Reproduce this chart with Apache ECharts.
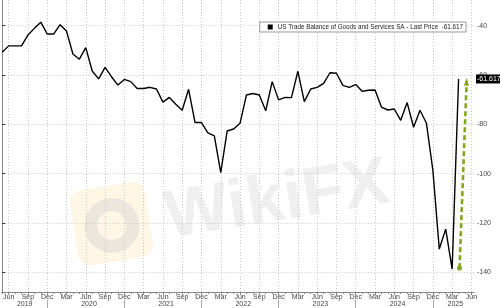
<!DOCTYPE html>
<html>
<head>
<meta charset="utf-8">
<script src="https://cdn.jsdelivr.net/npm/echarts@6/dist/echarts.min.js"></script>
<style>
html,body{margin:0;padding:0;background:#fff;}
#c{width:500px;height:308px;}
</style>
</head>
<body>
<div id="c"></div>
<script>
// Monthly data, first point = May 2019
const startYear = 2019;
const startMonth = 4; // 0 = Jan, so 4 = May
const seriesName = 'US Trade Balance of Goods and Services SA - Last Price';
const tradeBalance = [
  -50.8, -48.2, -48.2, -48.2, -43.8, -41.1, -38.6, -43.4,          // 2019 May-Dec
  -43.4, -39.6, -42.2, -51.5, -53.6, -48.9, -58.4, -61.6, -56.9, -60.7, -64.1, -61.8, // 2020
  -62.7, -65.5, -65.5, -65.0, -65.7, -71.0, -69.1, -71.9, -74.3, -65.8, -79.3, -79.3, // 2021
  -83.5, -84.7, -99.6, -82.7, -81.9, -79.6, -68.1, -67.5, -68.1, -74.5, -62.7, -70.1, // 2022
  -69.1, -69.2, -58.5, -70.8, -65.7, -65.0, -63.4, -59.1, -59.3, -64.2, -65.0, -63.9, // 2023
  -66.6, -66.2, -66.1, -73.0, -74.2, -73.8, -78.4, -71.2, -81.2, -74.3, -79.6, -98.6, // 2024
  -130.6, -122.5, -138.7, -61.617                                   // 2025 Jan-Apr
];
const monthNames = ['Jan','Feb','Mar','Apr','May','Jun','Jul','Aug','Sep','Oct','Nov','Dec'];
const yTicks = [-140, -120, -100, -80, -60, -40];

// axis extent (index units: 0 = May 2019)
const xMin = -0.085, xMax = 73.4;
const yMin = -148, yMax = -29.6;

const lastIdx = tradeBalance.length - 1;
const lastVal = tradeBalance[lastIdx];
const prevVal = tradeBalance[lastIdx - 1];

function monthOf(i){ return ((startMonth + Math.round(i)) % 12 + 12) % 12; }
function yearOf(i){ return startYear + Math.floor((i + startMonth) / 12); }

const quarterTicks = [], monthTicks = [], decTicks = [];
for (let i = Math.ceil(xMin); i <= Math.floor(xMax); i++) {
  monthTicks.push(i);
  if (monthOf(i) % 3 === 2) quarterTicks.push(i);
  if (monthOf(i) === 11) decTicks.push(i);
}
const yearPos = [];
for (let y = yearOf(Math.ceil(xMin)); y <= yearOf(Math.floor(xMax)); y++) {
  const a = Math.max(Math.ceil(xMin), (y - startYear) * 12 - startMonth);
  const b = Math.min(Math.floor(xMax), (y - startYear) * 12 - startMonth + 11);
  yearPos.push((a + b) / 2);
}

const lineData = tradeBalance.map((v, i) => [i, v]);
const font = 'Liberation Sans, Arial, sans-serif';
const grid = {left: 0, right: 26, top: 0, bottom: 16};

const chart = echarts.init(document.getElementById('c'), null, {renderer: 'canvas'});
chart.setOption({
  animation: false,
  backgroundColor: '#fff',
  grid: grid,
  graphic: [
    {type: 'group', left: 68, top: 180, rotation: 0.16, silent: true, z: 0, children: [
      {type: 'rect', shape: {x: 0, y: 0, width: 76, height: 76, r: 12}, style: {fill: 'rgba(252,238,200,0.45)'}},
      {type: 'circle', shape: {cx: 38, cy: 40, r: 21}, style: {fill: 'none', stroke: 'rgba(200,200,200,0.35)', lineWidth: 13}}
    ]},
    {type: 'text', left: 160, top: 150, rotation: 0.16, silent: true, z: 0,
     style: {text: 'WikiFX', font: 'bold 68px ' + font, fill: 'rgba(205,205,205,0.32)'}}
  ],
  legend: {
    data: [seriesName],
    right: 34, top: 22,
    icon: 'rect', itemWidth: 5, itemHeight: 5, itemGap: 3,
    padding: [2, 3, 2, 8],
    backgroundColor: '#fff', borderColor: '#999', borderWidth: 1,
    textStyle: {fontSize: 6.3, color: '#222', fontFamily: font},
    formatter: n => n + '  ' + lastVal.toFixed(3)
  },
  xAxis: [
    {
      type: 'value', min: xMin, max: xMax,
      axisLine: {show: true, lineStyle: {color: '#888', width: 1}},
      axisTick: {show: true, customValues: quarterTicks, length: 3, lineStyle: {color: '#888'}},
      axisLabel: {customValues: quarterTicks, fontSize: 7, color: '#444', fontFamily: font, margin: 2,
        formatter: v => monthNames[monthOf(v)]},
      splitLine: {show: true, lineStyle: {color: '#c8c8c8', type: [1, 2], width: 1}}
    },
    {
      type: 'value', min: xMin, max: xMax, position: 'bottom',
      axisLine: {show: false},
      axisTick: {show: true, customValues: monthTicks, length: 2, lineStyle: {color: '#888'}},
      axisLabel: {show: false},
      splitLine: {show: false}
    },
    {
      type: 'value', min: xMin, max: xMax, position: 'bottom', offset: 8,
      axisLine: {show: false},
      axisTick: {show: true, customValues: decTicks, length: 9, lineStyle: {color: '#aaa'}},
      axisLabel: {customValues: yearPos, fontSize: 7, color: '#444', fontFamily: font, margin: 1,
        formatter: v => String(yearOf(v))},
      splitLine: {show: false}
    }
  ],
  yAxis: {
    type: 'value', position: 'right', min: yMin, max: yMax,
    axisLine: {show: true, lineStyle: {color: '#888', width: 1}},
    axisTick: {show: true, customValues: yTicks, length: 3, lineStyle: {color: '#333'}},
    axisLabel: {customValues: yTicks, fontSize: 7, color: '#444', fontFamily: font, margin: 3},
    splitLine: {show: true, lineStyle: {color: '#c8c8c8', type: [1, 2], width: 1}}
  },
  series: [
    {
      name: seriesName, type: 'line', data: lineData,
      showSymbol: false, symbol: 'none',
      lineStyle: {color: '#000', width: 1.4},
      itemStyle: {color: '#000'},
      z: 5,
      markLine: {
        silent: true, symbol: 'none', animation: false,
        lineStyle: {color: 'rgba(0,0,0,0)', width: 0},
        label: {show: true, position: 'end', distance: 2, formatter: () => lastVal.toFixed(3),
          backgroundColor: '#000', color: '#fff', fontSize: 7, fontFamily: font, padding: [1, 1, 1, 1]},
        data: [{yAxis: lastVal}]
      }
    },
    {
      name: 'arrow', type: 'line', data: [], z: 6,
      markLine: {
        silent: true, animation: false,
        symbol: ['circle', 'triangle'], symbolSize: [5, 8],
        lineStyle: {color: '#86a51e', width: 2.6, type: [5, 3]},
        itemStyle: {color: '#86a51e'},
        label: {show: false},
        data: [[{coord: [lastIdx + 0.15, prevVal + 0.4]}, {coord: [lastIdx + 1.25, lastVal - 1.1]}]]
      }
    }
  ]
});
</script>
</body>
</html>
